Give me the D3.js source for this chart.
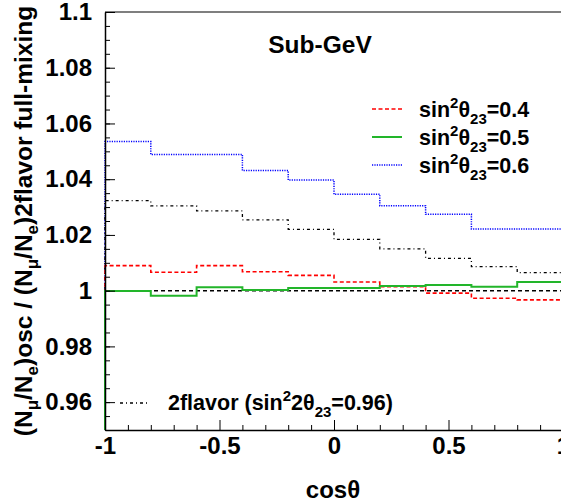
<!DOCTYPE html>
<html>
<head>
<meta charset="utf-8">
<script src="https://cdn.jsdelivr.net/npm/d3@7"></script>
<style>
  body { margin: 0; background: #fff; }
  svg { display: block; font-family: "Liberation Sans", Arial, sans-serif; font-weight: bold; }
</style>
</head>
<body>
<div class="figure"></div>
<script>
// bin edges in cos(theta)
const binEdges = [-1, -0.8, -0.6, -0.4, -0.2, 0, 0.2, 0.4, 0.6, 0.8, 1]

// ratio per bin
const sin04 = [1.0090, 1.0066, 1.0090, 1.0068, 1.0055, 1.0031, 1.0014, 0.9991, 0.9973, 0.9967]
const sin05 = [0.9999, 0.9982, 1.0012, 1.0002, 1.0010, 1.0010, 1.0017, 1.0020, 1.0014, 1.0031]
const sin06 = [1.0535, 1.0489, 1.0489, 1.0431, 1.0397, 1.0346, 1.0305, 1.0274, 1.0221, 1.0221]
const twoFlavor = [1.0323, 1.0304, 1.0286, 1.0254, 1.0220, 1.0184, 1.0150, 1.0116, 1.0086, 1.0065]

const xTicks = [-1, -0.5, 0, 0.5, 1]
const xTickLabels = ["-1", "-0.5", "0", "0.5", "1"]
const yTicks = [0.96, 0.98, 1.0, 1.02, 1.04, 1.06, 1.08, 1.1]
const yTickLabels = ["0.96", "0.98", "1", "1.02", "1.04", "1.06", "1.08", "1.1"]

const width = 561
const height = 502
const mLeft = 105, mRight = 563, mTop = 12, mBottom = 430

const svg = d3.select(".figure").append("svg")
    .attr("width", width)
    .attr("height", height)

const x = d3.scaleLinear().domain([-1, 1]).range([mLeft, mRight])
const y = d3.scaleLinear().domain([0.95, 1.1]).range([mBottom, mTop])

// histogram outline, ROOT style (starts and ends at frame bottom)
function stepPath(vals) {
    let p = `M${x(binEdges[0])},${y(0.95)}`
    vals.forEach((v, i) => {
        p += `V${y(v)}H${x(binEdges[i + 1])}`
    })
    p += `V${y(0.95)}`
    return p
}

const series = [
    {vals: sin06, color: "#0000ff", dash: "1.2 1.2", w: 1.5},
    {vals: twoFlavor, color: "#000", dash: "3 3 1 3", w: 1.3},
    {vals: sin04, color: "#ff0000", dash: "4 2.5", w: 1.6},
    {vals: sin05, color: "#22b52a", dash: null, w: 2}
]

// reference line at 1
svg.append("line")
    .attr("x1", x(-1)).attr("x2", x(1))
    .attr("y1", y(1)).attr("y2", y(1))
    .attr("stroke", "#000")
    .attr("stroke-width", 1.5)
    .attr("stroke-dasharray", "4 3")

svg.append("g")
    .attr("fill", "none")
    .selectAll("path")
    .data(series)
    .join("path")
    .attr("d", d => stepPath(d.vals))
    .attr("stroke", d => d.color)
    .attr("stroke-width", d => d.w)
    .attr("stroke-dasharray", d => d.dash)

// axes
const minorX = d3.range(-10, 11).map(i => i / 10).filter(v => !xTicks.includes(v))
const minorY = d3.range(0, 31).map(i => 0.95 + i * 0.005)

function styleLabels(g) {
    g.selectAll("text")
        .attr("font-size", 24)
        .attr("font-weight", "bold")
        .attr("font-family", "Liberation Sans, Arial, sans-serif")
        .attr("fill", "#000")
}

svg.append("g")
    .attr("transform", `translate(0,${mBottom})`)
    .call(d3.axisBottom(x).tickValues(minorX).tickSize(-5).tickFormat(""))
    .call(g => g.select(".domain").remove())
svg.append("g")
    .attr("transform", `translate(0,${mBottom})`)
    .call(d3.axisBottom(x).tickValues(xTicks).tickSizeInner(-10).tickSizeOuter(0)
        .tickPadding(7).tickFormat((d, i) => xTickLabels[i]))
    .call(styleLabels)
    .call(g => g.select(".domain").attr("stroke-width", 1.5))

svg.append("g")
    .attr("transform", `translate(${mLeft},0)`)
    .call(d3.axisLeft(y).tickValues(minorY).tickSize(-5).tickFormat(""))
    .call(g => g.select(".domain").remove())
svg.append("g")
    .attr("transform", `translate(${mLeft},0)`)
    .call(d3.axisLeft(y).tickValues(yTicks).tickSizeInner(-10).tickSizeOuter(0)
        .tickPadding(13).tickFormat((d, i) => yTickLabels[i]))
    .call(styleLabels)
    .call(g => g.select(".domain").attr("stroke-width", 1.5))

// top frame line
svg.append("line")
    .attr("x1", mLeft).attr("x2", mRight)
    .attr("y1", mTop).attr("y2", mTop)
    .attr("stroke", "#000")
    .attr("stroke-width", 1.2)

// axis titles
svg.append("text")
    .attr("x", 333)
    .attr("y", 498)
    .attr("text-anchor", "middle")
    .attr("font-size", 24)
    .text("cosθ")

const yt = svg.append("text")
    .attr("transform", "translate(32,221) rotate(-90)")
    .attr("text-anchor", "middle")
    .attr("font-size", 24.5)
yt.append("tspan").text("(N")
yt.append("tspan").attr("dy", 6).attr("font-size", 17).text("μ")
yt.append("tspan").attr("dy", -6).text("/N")
yt.append("tspan").attr("dy", 6).attr("font-size", 17).text("e")
yt.append("tspan").attr("dy", -6).text(")osc / (N")
yt.append("tspan").attr("dy", 6).attr("font-size", 17).text("μ")
yt.append("tspan").attr("dy", -6).text("/N")
yt.append("tspan").attr("dy", 6).attr("font-size", 17).text("e")
yt.append("tspan").attr("dy", -6).text(")2flavor full-mixing")

svg.append("text")
    .attr("x", 320)
    .attr("y", 53)
    .attr("text-anchor", "middle")
    .attr("font-size", 24.5)
    .text("Sub-GeV")

// legend
function sinLabel(sel, mid, val) {
    sel.append("tspan").text("sin")
    sel.append("tspan").attr("dy", -9).attr("font-size", 15).text("2")
    sel.append("tspan").attr("dy", 9).text(mid)
    sel.append("tspan").attr("dy", 7).attr("font-size", 15).text("23")
    sel.append("tspan").attr("dy", -7).text(val)
}

const legendItems = [
    {label: "=0.4", color: "#ff0000", dash: "4 2.5", w: 1.6, ly: 109},
    {label: "=0.5", color: "#22b52a", dash: null, w: 2, ly: 137},
    {label: "=0.6", color: "#0000ff", dash: "1.2 1.2", w: 1.5, ly: 165}
]

const leg = svg.append("g").selectAll("g")
    .data(legendItems)
    .join("g")
leg.append("line")
    .attr("x1", 372).attr("x2", 402)
    .attr("y1", d => d.ly).attr("y2", d => d.ly)
    .attr("stroke", d => d.color)
    .attr("stroke-width", d => d.w)
    .attr("stroke-dasharray", d => d.dash)
leg.append("text")
    .attr("x", 419)
    .attr("y", d => d.ly + 8)
    .attr("font-size", 21.5)
    .each(function(d) { sinLabel(d3.select(this), "θ", d.label) })

svg.append("line")
    .attr("x1", 120).attr("x2", 150)
    .attr("y1", 403).attr("y2", 403)
    .attr("stroke", "#000")
    .attr("stroke-width", 1.3)
    .attr("stroke-dasharray", "3 3 1 3")
const l2 = svg.append("text")
    .attr("x", 168)
    .attr("y", 410)
    .attr("font-size", 21.5)
l2.append("tspan").text("2flavor (")
sinLabel(l2, "2θ", "=0.96)")
</script>
</body>
</html>
